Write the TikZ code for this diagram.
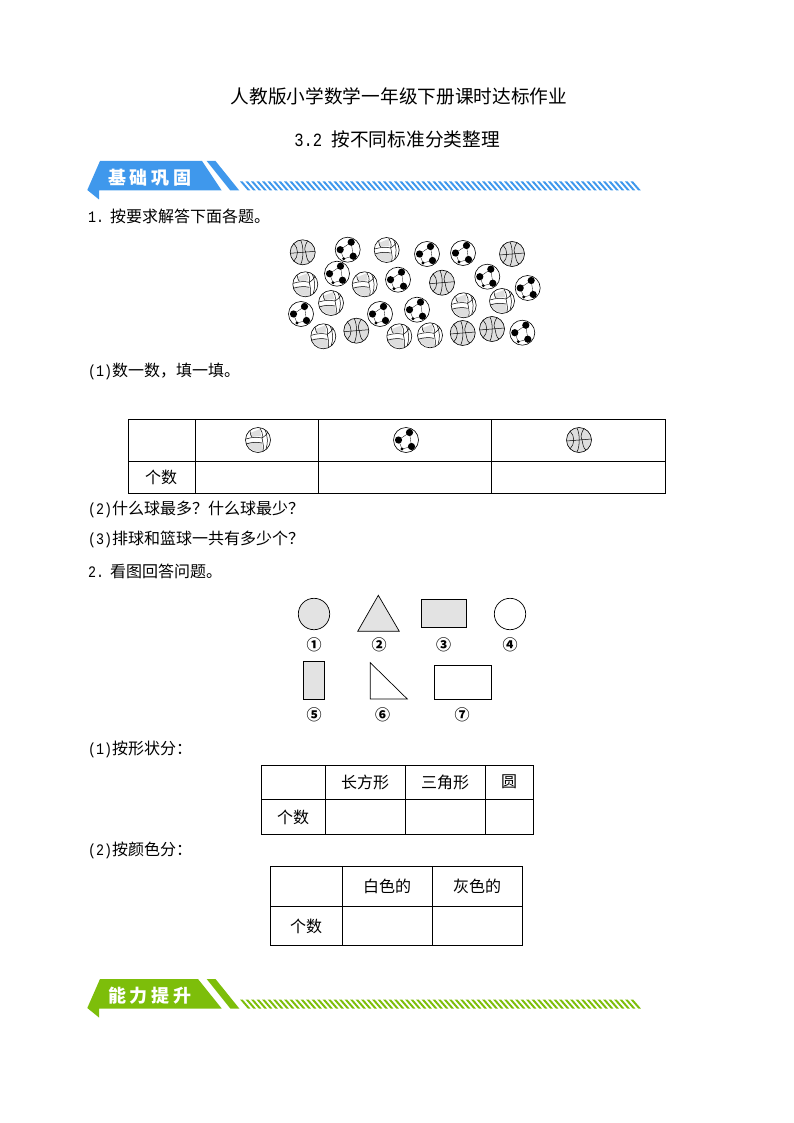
\documentclass[tikz,border=0pt]{standalone}
\usepackage{fontspec}
\setmainfont{Noto Sans CJK SC}
\newfontfamily\lat[FakeStretch=0.833]{Liberation Mono}
\definecolor{barblue}{HTML}{3F98EC}
\definecolor{bargreen}{HTML}{7DBE0A}
\definecolor{ballgray}{HTML}{DEDEDE}
\definecolor{shapegray}{HTML}{E3E3E3}

\begin{document}
\begin{tikzpicture}[x=1pt,y=-1pt,
txt/.style={inner sep=0pt,font=\fontsize{16}{16}\selectfont},
ttl/.style={inner sep=0pt,font=\fontsize{18.67}{18.67}\selectfont},
bartxt/.style={inner sep=0pt,text=white,font=\fontsize{18}{18}\selectfont\bfseries},
numtxt/.style={inner sep=0pt,font=\fontsize{15}{15}\selectfont\bfseries},
tbl/.style={draw=black,line width=.9pt},
shp/.style={draw=black,line width=.7pt},
volley/.pic={
  \filldraw[white] (0,0) circle (12.5);
  \fill[ballgray] (-11.5,3) .. controls (-5,1) and (0,2) .. (4,3) -- (5,11) .. controls (0,13) and (-8,11) .. cycle;
  \fill[ballgray] (-8,-7) -- (2,-11) -- (3,-4) -- (-7,-3) -- cycle;
  \draw[line width=.6pt] (0,0) circle (12.5);
  \draw[line width=.5pt] (-12,-1) .. controls (-6,-3) and (0,-3) .. (4,-2) .. controls (5,3) and (6,7) .. (5,11);
  \draw[line width=.5pt] (-12,4) .. controls (-6,2) and (0,2) .. (4,3);
  \draw[line width=.5pt] (4,-2) .. controls (5,-6) and (4,-9) .. (2,-12);
  \draw[line width=.5pt] (4,-2) .. controls (7,-4) and (9,-6) .. (10,-8);
  \draw[line width=.5pt] (7,-10) .. controls (10,-3) and (10,3) .. (8,9);
  \draw[line width=.5pt] (-8,-9) .. controls (-8,-6) and (-7,-4) .. (-6,-3);
},
basket/.pic={
  \filldraw[ballgray] (0,0) circle (12.5);
  \draw[line width=.6pt] (0,0) circle (12.5);
  \draw[line width=.5pt] (-12.5,1) -- (12.5,-1);
  \draw[line width=.5pt] (-2,-12) .. controls (1,-6) and (1,6) .. (-2,12);
  \draw[line width=.5pt] (-9,-9) .. controls (-4,-4) and (-4,4) .. (-9,9);
  \draw[line width=.5pt] (5,-11.5) .. controls (1,-5) and (2,-2) .. (3,0);
  \draw[line width=.5pt] (3,0) .. controls (4,4) and (4,8) .. (7,10);
},
soccer/.pic={
  \filldraw[fill=white,line width=.6pt] (0,0) circle (12.5);
  \draw[line width=.3pt] (3.5,-7.5) -- (-7.5,0) -- (-4,9) -- (5.5,6.5) -- cycle;
  \foreach \a/\b in {3.5/-7.5,-7.5/0,5.5/6.5}
    \fill (\a,\b) circle (3.6);
  \fill (-4,9) circle (1.6);
}]
\useasboundingbox (0,0) rectangle (794,1123);

% titles
\node[ttl] (title) at (399,96) {人教版小学数学一年级下册课时达标作业};
\node[ttl] (subtitle) at (397,139) {{\lat 3.2 }按不同标准分类整理};

% section bars
\foreach \c/\t/\r/\s in {barblue/161/202/基\hspace{4pt}础\hspace{4pt}巩\hspace{4pt}固,bargreen/979/198/能\hspace{4pt}力\hspace{4pt}提\hspace{4pt}升}{
  \fill[\c] (100,\t) -- (\r,\t) -- (221.7,\t+29.5) -- (99,\t+29.5) -- (99,\t+38.5) -- (87.3,\t+29) -- cycle;
  \fill[\c] (206.7,\t) -- (215.5,\t) -- (239.3,\t+29.5) -- (230.3,\t+29.5) -- cycle;
  \foreach \i in {0,...,71}
    \fill[\c] (240+5.5*\i,\t+20.5) -- (242.6+5.5*\i,\t+20.5) -- (250.4+5.5*\i,\t+29.5) -- (247.8+5.5*\i,\t+29.5) -- cycle;
  \node[bartxt] (bar\t) at (150,\t+17) {\s};
}

% question 1
\node[txt,anchor=west] (q1) at (88,216) {{\lat 1.}\hspace{6pt}按要求解答下面各题。};
\foreach \x/\y in {386.7/250,305.3/284.3,364.7/284.3,331/303,463.7/305.3,502/301,323.3/336.3,399.3/336.3,430/335.3}
  \pic at (\x,\y) {volley};
\foreach \x/\y in {347.7/249.7,427/254,463/253,337/273.7,398/279.7,487.3/276.7,527.7/288,301/314,380/314,417/309.7,522.3/332.7}
  \pic at (\x,\y) {soccer};
\foreach \x/\y in {302.7/252.3,512/254,442/282.7,356.3/330.7,462.7/333,492/329}
  \pic at (\x,\y) {basket};
\node[txt,anchor=west] (q11) at (88,371) {{\lat (1)}数一数，填一填。};

% table of balls
\draw[tbl] (128,419) rectangle (665,493);
\draw[tbl] (128,461) -- (665,461);
\foreach \x in {195,318,491}
  \draw[tbl] (\x,419) -- (\x,493);
\pic at (258,440) {volley};
\pic at (406,440) {soccer};
\pic at (579,440) {basket};
\node[txt] (cnt1) at (161,477) {个数};

\node[txt,anchor=west] (q12) at (88,509) {{\lat (2)}什么球最多？什么球最少？};
\node[txt,anchor=west] (q13) at (88,539) {{\lat (3)}排球和篮球一共有多少个？};

% question 2
\node[txt,anchor=west] (q2) at (88,571) {{\lat 2.}\hspace{6pt}看图回答问题。};
\filldraw[shp,fill=shapegray] (314,614) circle (15.7);
\filldraw[shp,fill=shapegray] (378.3,595.3) -- (399.3,631.3) -- (357.7,631.3) -- cycle;
\filldraw[shp,fill=shapegray] (421.3,599.3) rectangle (466.3,627.3);
\draw[shp] (510,614) circle (15.7);
\filldraw[shp,fill=shapegray] (303.3,661.3) rectangle (324.3,699);
\draw[shp] (370.3,662.7) -- (407.3,699) -- (370.3,699) -- cycle;
\draw[shp] (434.3,665.3) rectangle (491.3,699);
\foreach \n/\x/\y/\m in {a/314/645/①,b/379/645/②,c/443.7/645/③,d/510/645/④,e/314/714.3/⑤,f/382.7/714.3/⑥,g/462/714.3/⑦}
  \node[numtxt] (num\n) at (\x,\y) {\m};

\node[txt,anchor=west] (q21) at (88,749) {{\lat (1)}按形状分：};
\draw[tbl] (261,765) rectangle (533,834);
\draw[tbl] (261,799) -- (533,799);
\foreach \x in {325,405,485}
  \draw[tbl] (\x,765) -- (\x,834);
\node[txt] (rect) at (365,782) {长方形};
\node[txt] (tri) at (445,782) {三角形};
\node[txt] (circ) at (509,782) {圆};
\node[txt] (cnt2) at (293,817) {个数};

\node[txt,anchor=west] (q22) at (88,850) {{\lat (2)}按颜色分：};
\draw[tbl] (270,866) rectangle (522,945);
\draw[tbl] (270,906) -- (522,906);
\foreach \x in {342,432}
  \draw[tbl] (\x,866) -- (\x,945);
\node[txt] (white) at (387,886) {白色的};
\node[txt] (gray) at (477,886) {灰色的};
\node[txt] (cnt3) at (306,926) {个数};
\end{tikzpicture}
\end{document}
